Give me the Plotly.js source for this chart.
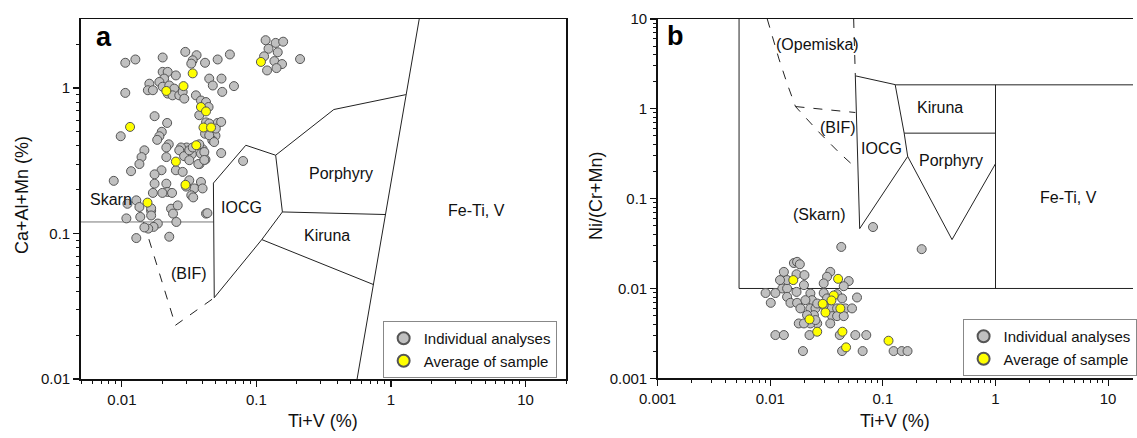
<!DOCTYPE html>
<html><head><meta charset="utf-8">
<script src="https://cdn.plot.ly/plotly-3.0.1.min.js"></script>
<style>html,body{margin:0;padding:0;background:#fff;overflow:hidden}#c{width:1137px;height:438px}</style>
</head><body><div id="c"></div>
<script>
// ---------- Panel a data: Ti+V (%) vs Ca+Al+Mn (%) ----------
const aIndX = [0.117,0.139,0.158,0.123,0.144,0.114,0.136,0.155,0.120,0.141,0.211,
 0.0296,0.0359,0.0336,0.0201,0.0126,0.0106,0.0415,0.0515,0.0635,0.0328,0.0201,0.0219,0.0252,0.0206,0.0190,0.0160,0.0156,0.0170,0.0201,0.0225,0.0245,0.0219,0.0238,0.0267,0.0283,0.0291,0.0446,0.055,0.0474,0.0557,0.0681,0.0106,0.0355,0.0387,0.0422,0.0441,
 0.0175,0.0217,0.0198,0.0190,0.0183,0.0098,0.0376,0.0422,0.0515,0.047,0.0496,0.047,0.0415,0.0303,0.0331,0.0398,0.0404,0.0418,0.0378,0.0291,0.0275,0.0223,0.0214,0.0214,0.0147,0.014,0.0135,0.0117,0.0252,0.0283,0.0197,0.0175,0.0175,0.0214,0.0219,0.0200,0.0236,0.0170,0.0317,0.0387,0.0345,0.0328,0.0398,0.0422,0.0547,0.0796,0.0087,0.0128,0.0135,0.011,0.0165,0.0232,0.026,0.024,0.0108,0.0137,0.0165,0.0165,0.0185,0.0172,0.0157,0.0147,0.0128,0.0225,0.0254,0.0267,0.029,0.0317,0.0317,0.0336,0.0376,0.0387,0.041,0.037,0.041,0.030,0.0339,0.0432,0.0446,0.0485,0.0499,0.0547,0.0446];
const aIndY = [2.13,2.04,2.08,1.86,1.76,1.65,1.53,1.46,1.32,1.37,1.58,
 1.77,1.68,1.55,1.62,1.57,1.49,1.49,1.57,1.70,1.47,1.29,1.29,1.22,1.16,1.10,1.07,0.965,0.965,1.02,1.04,0.99,0.915,0.89,0.89,0.94,0.845,1.16,1.16,1.04,0.94,1.03,0.925,0.89,0.82,0.80,0.74,
 0.64,0.575,0.50,0.466,0.44,0.466,0.65,0.58,0.575,0.51,0.47,0.437,0.485,0.39,0.35,0.38,0.35,0.322,0.30,0.35,0.39,0.41,0.39,0.335,0.373,0.335,0.30,0.268,0.272,0.265,0.272,0.255,0.22,0.22,0.193,0.19,0.19,0.19,0.232,0.226,0.204,0.183,0.204,0.137,0.357,0.315,0.23,0.169,0.152,0.16,0.143,0.148,0.156,0.137,0.127,0.13,0.149,0.133,0.117,0.111,0.108,0.11,0.093,0.095,0.12,0.373,0.34,0.373,0.319,0.39,0.41,0.354,0.363,0.30,0.32,0.21,0.177,0.138,0.473,0.425,0.526,0.584,0.57];
const aAvgX = [0.108,0.0336,0.0287,0.0214,0.0387,0.0422,0.0115,0.0404,0.0460,0.0357,0.0252,0.0297,0.0155];
const aAvgY = [1.51,1.26,1.03,0.954,0.74,0.69,0.54,0.535,0.535,0.404,0.312,0.216,0.163];

// Panel a field boundaries
const aSkarnX = [0.004,0.048], aSkarnY = [0.12,0.12];
const aIocgX = [0.0479,0.0834,0.139,0.156,0.1096,0.0486,0.0479];
const aIocgY = [0.222,0.404,0.345,0.1406,0.0908,0.0362,0.222];
const aPorTopX = [0.139,0.376,1.29], aPorTopY = [0.345,0.711,0.90];
const aPorKirX = [0.156,0.91], aPorKirY = [0.1406,0.135];
const aKirBotX = [0.1096,0.744], aKirBotY = [0.0908,0.0445];
const aFeTiX = [1.64,0.56], aFeTiY = [3.16,0.01];
const aBifX = [0.0145,0.025,0.0486], aBifY = [0.12,0.0234,0.0362];

const aLabels = ['Skarn','IOCG','(BIF)','Kiruna','Porphyry','Fe-Ti, V'];
const aLabelX = [0.00824,0.078,0.0317,0.336,0.422,4.34];
const aLabelY = [0.172,0.1507,0.0535,0.0972,0.26,0.144];

// ---------- Panel b data: Ti+V (%) vs Ni/(Cr+Mn) ----------
const bIndX = [0.0817,0.221,0.0427,0.0162,0.0173,0.0183,0.0132,0.0171,0.0201,0.0341,0.0319,0.0298,0.0497,0.0449,0.0128,0.0141,0.00908,0.0111,0.0101,0.0141,0.0151,0.0173,0.0171,0.0199,0.0227,0.0235,0.0205,0.0185,0.0227,0.0252,0.0244,0.0212,0.0261,0.0227,0.0179,0.0199,0.0298,0.0392,0.0434,0.0341,0.0392,0.0464,0.0532,0.0354,0.0392,0.0449,0.0341,0.0589,0.0111,0.0132,0.0223,0.0414,0.0569,0.0712,0.0195,0.0434,0.0661,0.1245,0.147,0.1655,0.0261,0.0298,0.0141,0.0122,0.0319,0.0252];
const bIndY = [0.0483,0.0274,0.029,0.0192,0.0198,0.0186,0.0153,0.0144,0.0141,0.0153,0.0135,0.0114,0.0121,0.0106,0.01,0.01,0.0089,0.0089,0.00692,0.00807,0.00692,0.00692,0.00916,0.0109,0.0088,0.00741,0.00741,0.006,0.006,0.006,0.00505,0.00505,0.00408,0.00408,0.00408,0.00408,0.0089,0.00865,0.00775,0.006,0.006,0.006,0.006,0.00492,0.00492,0.00492,0.00408,0.00794,0.00303,0.00303,0.00303,0.00303,0.00303,0.00303,0.00201,0.00201,0.00201,0.00201,0.00201,0.00201,0.0068,0.0065,0.0124,0.0124,0.00775,0.00445];
const bAvgX = [0.016,0.04,0.0366,0.0349,0.0292,0.0309,0.0419,0.0223,0.0261,0.0437,0.0471,0.1122];
const bAvgY = [0.0124,0.0128,0.00836,0.00736,0.00675,0.0054,0.006,0.00453,0.0033,0.0033,0.00221,0.00262];

// Panel b field boundaries
const bSkarnX = [0.00528,0.00528,100], bSkarnY = [10,0.01,0.01];
const bFeTiX = [1.0,1.0], bFeTiY = [0.01,1.85];
const bKirTopX = [0.1285,100], bKirTopY = [1.85,1.85];
const bIocgX = [0.0569,0.1285,0.1545,0.166,0.0622,0.0569];
const bIocgY = [2.33,1.86,0.536,0.295,0.0464,2.33];
const bKirPorX = [0.1545,1.0], bKirPorY = [0.536,0.536];
const bPorX = [0.166,0.411,1.0], bPorY = [0.295,0.035,0.245];
const bOpeVX = [0.055,0.0569], bOpeVY = [10,2.33];
const bCurveX = [0.0094,0.01194,0.01413,0.01674,0.0279,0.0419,0.0569];
const bCurveY = [10,3.59,1.90,1.06,0.527,0.316,0.223];
const bBifTopX = [0.01674,0.0569], bBifTopY = [1.06,0.91];

const bLabels = ['(Opemiska)','(BIF)','IOCG','Kiruna','Porphyry','Fe-Ti, V','(Skarn)'];
const bLabelX = [0.026,0.040,0.098,0.321,0.402,4.49,0.027];
const bLabelY = [5.14,0.615,0.36,1.03,0.267,0.104,0.0664];

const legendNames = ['Individual analyses','Average of sample'];

// ---------- build ----------
const FONT = 'Liberation Sans, Arial, sans-serif';
const grayMk = {size:9,color:'#c0c0c0',line:{color:'#555',width:1}};
const yelMk = {size:9,color:'#ffff00',line:{color:'#555',width:1}};
function ln(x,y,xa,ya,opt){
  return Object.assign({x:x,y:y,xaxis:xa,yaxis:ya,mode:'lines',hoverinfo:'skip',showlegend:false,
    line:Object.assign({color:'#222',width:1},opt||{})});
}
const traces = [
  ln(aSkarnX,aSkarnY,'x','y',{color:'#777'}),
  ln(aIocgX,aIocgY,'x','y'),
  ln(aPorTopX,aPorTopY,'x','y'),
  ln(aPorKirX,aPorKirY,'x','y'),
  ln(aKirBotX,aKirBotY,'x','y'),
  ln(aFeTiX,aFeTiY,'x','y'),
  ln(aBifX,aBifY,'x','y',{dash:'dash'}),
  {x:aIndX,y:aIndY,xaxis:'x',yaxis:'y',mode:'markers',name:legendNames[0],marker:grayMk,legend:'legend'},
  {x:aAvgX,y:aAvgY,xaxis:'x',yaxis:'y',mode:'markers',name:legendNames[1],marker:yelMk,legend:'legend'},
  ln(bSkarnX,bSkarnY,'x2','y2'),
  ln(bFeTiX,bFeTiY,'x2','y2'),
  ln(bKirTopX,bKirTopY,'x2','y2'),
  ln(bIocgX,bIocgY,'x2','y2'),
  ln(bKirPorX,bKirPorY,'x2','y2'),
  ln(bPorX,bPorY,'x2','y2'),
  ln(bOpeVX,bOpeVY,'x2','y2',{dash:'dash'}),
  ln(bCurveX,bCurveY,'x2','y2',{dash:'dash'}),
  ln(bBifTopX,bBifTopY,'x2','y2',{dash:'dash'}),
  {x:bIndX,y:bIndY,xaxis:'x2',yaxis:'y2',mode:'markers',name:legendNames[0],marker:grayMk,legend:'legend2',cliponaxis:false},
  {x:bAvgX,y:bAvgY,xaxis:'x2',yaxis:'y2',mode:'markers',name:legendNames[1],marker:yelMk,legend:'legend2',cliponaxis:false}
];

const W=1137,H=438;
function axis(extra){
  return Object.assign({type:'log',showgrid:false,zeroline:false,showline:true,linecolor:'#111',linewidth:1.5,
    ticks:'outside',ticklen:6,tickwidth:1.2,tickcolor:'#111',tickmode:'array',
    tickfont:{family:FONT,size:15,color:'#111'},
    minor:{ticks:'outside',ticklen:3.5,tickwidth:1,tickcolor:'#111',dtick:'D1',showgrid:false}},extra);
}
const L=Math.log10;
const annotations=[];
function ann(o){annotations.push(Object.assign({showarrow:false,xanchor:'center',yanchor:'middle'},o));}
aLabels.forEach((t,i)=>ann({text:t,x:L(aLabelX[i]),y:L(aLabelY[i]),xref:'x',yref:'y',font:{family:FONT,size:16,color:'#111'}}));
bLabels.forEach((t,i)=>ann({text:t,x:L(bLabelX[i]),y:L(bLabelY[i]),xref:'x2',yref:'y2',font:{family:FONT,size:16,color:'#111'}}));
ann({text:'<b>a</b>',x:104/W,y:1-37/H,xref:'paper',yref:'paper',font:{family:FONT,size:27,color:'#000'}});
ann({text:'<b>b</b>',x:678/W,y:1-36/H,xref:'paper',yref:'paper',font:{family:FONT,size:27,color:'#000'}});
ann({text:'Ti+V (%)',x:324/W,y:1-421/H,xref:'paper',yref:'paper',font:{family:FONT,size:18,color:'#111'}});
ann({text:'Ti+V (%)',x:898/W,y:1-421/H,xref:'paper',yref:'paper',font:{family:FONT,size:18,color:'#111'}});
ann({text:'Ca+Al+Mn (%)',x:22/W,y:1-195/H,xref:'paper',yref:'paper',textangle:-90,font:{family:FONT,size:18,color:'#111'}});
ann({text:'Ni/(Cr+Mn)',x:598/W,y:1-195/H,xref:'paper',yref:'paper',textangle:-90,font:{family:FONT,size:18,color:'#111'}});

const legStyle={bgcolor:'#fff',bordercolor:'#888',borderwidth:1,font:{family:FONT,size:15,color:'#111'},
  xanchor:'left',yanchor:'top',itemsizing:'constant',tracegroupgap:0,orientation:'v'};
const layout={
  width:W,height:H,margin:{l:0,r:0,t:0,b:0},paper_bgcolor:'#fff',plot_bgcolor:'#fff',
  showlegend:true,
  xaxis:axis({domain:[81/W,568/W],range:[-2.306,1.301],mirror:true,anchor:'y',
    tickvals:[0.01,0.1,1,10],ticktext:['0.01','0.1','1','10']}),
  yaxis:axis({domain:[1-379/H,1-19/H],range:[-2,0.474],mirror:true,anchor:'x',
    tickvals:[0.01,0.1,1],ticktext:['0.01','0.1','1']}),
  xaxis2:axis({domain:[660/W,1],range:[-3,1.221],mirror:true,anchor:'y2',
    tickvals:[0.001,0.01,0.1,1,10],ticktext:['0.001','0.01','0.1','1','10']}),
  yaxis2:axis({domain:[1-378.3/H,1-19/H],range:[-3,1],mirror:false,anchor:'x2',
    tickvals:[0.001,0.01,0.1,1,10],ticktext:['0.001','0.01','0.1','1','10']}),
  legend:Object.assign({x:384/W,y:1-321/H},legStyle),
  legend2:Object.assign({x:966/W,y:1-319/H},legStyle),
  annotations:annotations
};
Plotly.newPlot('c',traces,layout,{displayModeBar:false,staticPlot:true});
</script></body></html>
